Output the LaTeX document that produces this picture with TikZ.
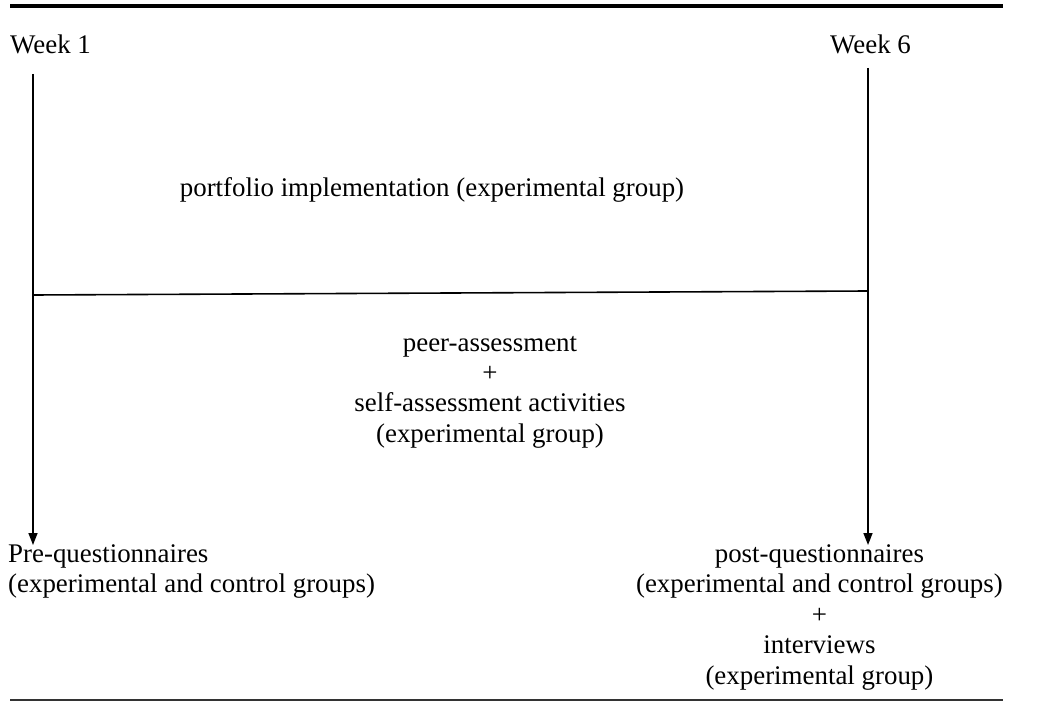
\documentclass[tikz,border=0pt]{standalone}
\usepackage{fontspec}
\setmainfont{Liberation Serif}
\usetikzlibrary{arrows.meta}
\begin{document}
\begin{tikzpicture}[x=1bp,y=-1bp,
  txt/.style={inner sep=0pt, font=\fontsize{27}{30.5}\selectfont},
  ctxt/.style={txt, align=center},
  ltxt/.style={txt, align=left},
  arr/.style={line width=1.6bp, -{Triangle[width=9bp,length=12bp]}},
  rule/.style={line width=#1}]
\useasboundingbox (0,0) rectangle (1039,702);
% rules
\coordinate (t1) at (10,6);
\coordinate (t2) at (1003,6);
\draw[rule=4bp] (t1) -- (t2);
\coordinate (b1) at (10,700);
\coordinate (b2) at (1003,700);
\draw[rule=1.4bp, black!80] (b1) -- (b2);
% labels
\node[txt, anchor=base west] (w1) at (10,54) {Week 1};
\node[txt, anchor=base west] (w6) at (830,54) {Week 6};
\node[ctxt] (port) at (432,190) {portfolio implementation (experimental group)};
\node[ctxt] (peer) at (490,392) {peer-assessment\\+\\self-assessment activities\\(experimental group)};
% base anchor of a multi-line node is the baseline of its last line
\node[ltxt, anchor=base west] (pre) at (8,592.5) {Pre-questionnaires\\(experimental and control groups)};
\node[ctxt, anchor=base east] (post) at (1003,684) {post-questionnaires\\(experimental and control groups)\\+\\interviews\\(experimental group)};
% timeline
\coordinate (a1) at (33,74);
\coordinate (a2) at (33,545);
\coordinate (c1) at (868,68);
\coordinate (c2) at (868,545);
\draw[arr] (a1) -- (a2);
\draw[arr] (c1) -- (c2);
\coordinate (h1) at (33,295);
\coordinate (h2) at (868,291);
\draw[line width=1.6bp] (h1) -- (h2);
\end{tikzpicture}
\end{document}
